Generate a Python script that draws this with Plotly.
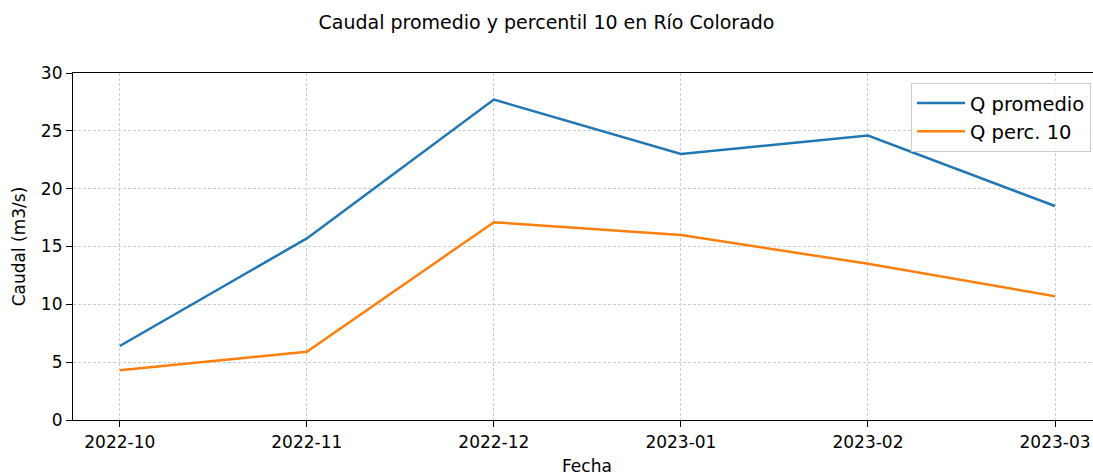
import plotly.graph_objects as go

# Monthly flow data, Río Colorado
fechas = ["2022-10", "2022-11", "2022-12", "2023-01", "2023-02", "2023-03"]
q_promedio = [6.4, 15.7, 27.7, 23.0, 24.6, 18.5]
q_perc10 = [4.3, 5.9, 17.1, 16.0, 13.5, 10.7]

FONT = "DejaVu Sans"
W, H = 1093, 472
L, T, B = 73, 73, 52
PLOT_H = H - T - B

fig = go.Figure()
fig.add_trace(go.Scatter(x=fechas, y=q_promedio, mode="lines", name="Q promedio",
                         line=dict(color="#1f77b4", width=2.5)))
fig.add_trace(go.Scatter(x=fechas, y=q_perc10, mode="lines", name="Q perc. 10",
                         line=dict(color="#ff7f0e", width=2.5)))

fig.update_layout(
    width=W, height=H,
    margin=dict(l=L, r=0, t=T, b=B),
    paper_bgcolor="white", plot_bgcolor="white",
    font=dict(family=FONT, size=17, color="black"),
    title=dict(text="Caudal promedio y percentil 10 en Río Colorado",
               x=0.5, xanchor="center", xref="container",
               y=1 - 22 / H, yanchor="middle", yref="container",
               font=dict(size=19)),
    legend=dict(x=1 - 2 / (W - L), xanchor="right", y=0.972, yanchor="top",
                bgcolor="rgba(255,255,255,0.8)", bordercolor="#cccccc", borderwidth=1,
                font=dict(size=19.5), itemwidth=48, tracegroupgap=0),
)

# x-axis title placed below the tick labels
fig.add_annotation(text="Fecha", xref="paper", yref="paper",
                   x=0.5 * (1 + 0.008), y=-(454 - (H - B)) / PLOT_H,
                   xanchor="center", yanchor="top", showarrow=False,
                   font=dict(size=17))

fig.update_xaxes(
    type="category", range=[-0.25, 5.203], automargin=False,
    showline=True, linecolor="black", linewidth=1.2, mirror=True,
    ticks="outside", ticklen=6, tickcolor="black", tickwidth=1.2,
    showgrid=True, gridcolor="#cccccc", griddash="3px,2px", gridwidth=1,
    zeroline=False,
)
fig.update_yaxes(
    range=[0, 30], dtick=5, automargin=False,
    showline=True, linecolor="black", linewidth=1.2,
    ticks="outside", ticklen=6, tickcolor="black", tickwidth=1.2,
    showgrid=True, gridcolor="#cccccc", griddash="3px,2px", gridwidth=1,
    title=dict(text="Caudal (m3/s)", standoff=10, font=dict(size=17)),
    zeroline=False,
)

fig.write_html("out.html")
